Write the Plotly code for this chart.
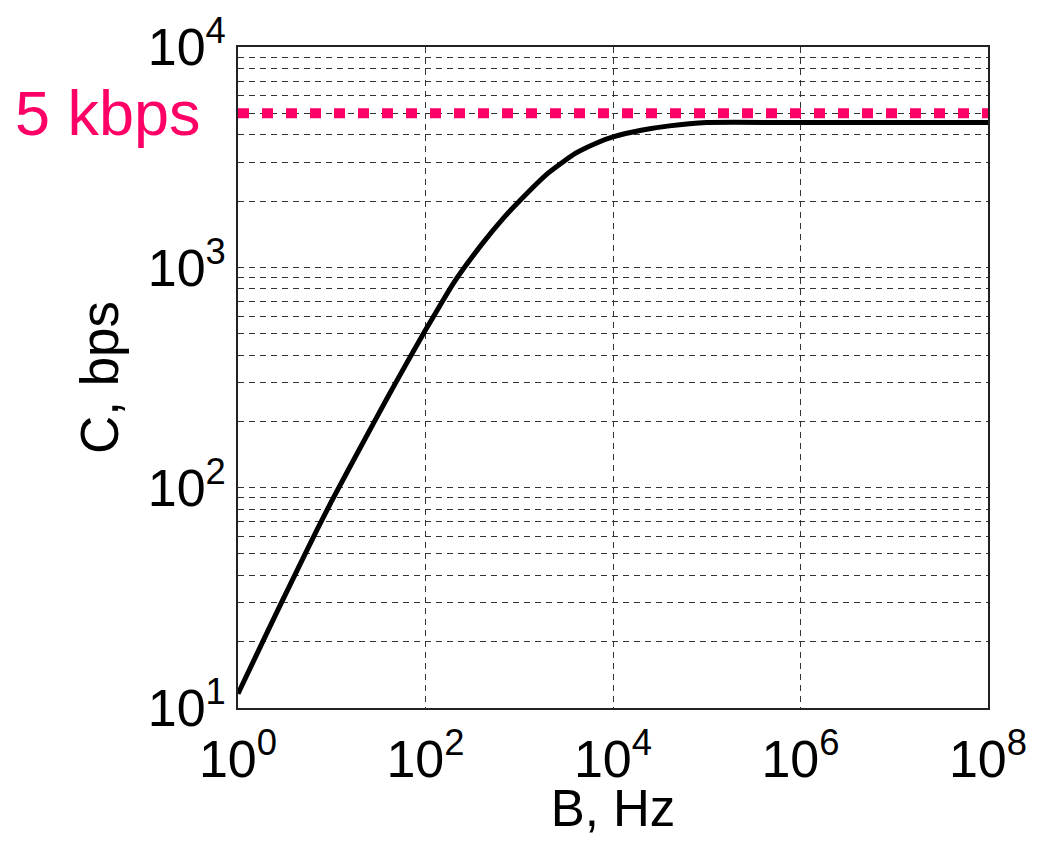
import plotly.graph_objects as go

# Data
bandwidth_hz = [1, 2, 4, 7, 10, 20, 40, 70, 100, 200, 400, 700, 1000, 2000,
                4000, 7000, 1e4, 2e4, 4e4, 1e5, 1e6, 1e7, 1e8]
capacity_bps = [11.6, 21.6, 39.8, 64.6, 87.1, 151, 260, 398, 519, 851, 1274,
                1698, 1995, 2661, 3296, 3698, 3908, 4188, 4385, 4540, 4540,
                4540, 4540]

ref_x = [1, 1e8]
ref_y = [5000, 5000]
ref_label = "5 kbps"

x_ticks = [1, 1e2, 1e4, 1e6, 1e8]
x_ticktext = ["10<sup>0</sup>", "10<sup>2</sup>", "10<sup>4</sup>",
              "10<sup>6</sup>", "10<sup>8</sup>"]
y_ticks = [10, 100, 1000, 10000]
y_ticktext = ["10<sup>1</sup>", "10<sup>2</sup>", "10<sup>3</sup>",
              "10<sup>4</sup>"]

FONT = "Arial, Liberation Sans, sans-serif"
PINK = "#FF0066"
GRID = "#333333"

fig = go.Figure()
fig.add_trace(go.Scatter(
    x=ref_x, y=ref_y, mode="lines",
    line=dict(color=PINK, width=10, dash="11px,13px"),
    hoverinfo="skip", showlegend=False))
fig.add_trace(go.Scatter(
    x=bandwidth_hz, y=capacity_bps, mode="lines",
    line=dict(color="black", width=5, shape="spline", smoothing=0.5),
    showlegend=False))

fig.add_annotation(
    text=ref_label, xref="paper", yref="y", x=-0.047, y=3.699,
    xanchor="right", yanchor="middle", showarrow=False,
    font=dict(family=FONT, size=63, color=PINK))

fig.update_xaxes(
    type="log", range=[0, 8], automargin=False,
    tickvals=x_ticks, ticktext=x_ticktext,
    tickfont=dict(family=FONT, size=52, color="black"),
    ticklabelstandoff=5,
    ticks="", showline=True, linecolor="#222222", linewidth=1.5, mirror=True,
    showgrid=True, gridcolor=GRID, gridwidth=1, griddash="6px,5px",
    zeroline=False,
    title=dict(text="B, Hz", font=dict(family=FONT, size=51, color="black"),
               standoff=8))
fig.update_yaxes(
    type="log", range=[1, 4], automargin=False,
    tickvals=y_ticks, ticktext=y_ticktext,
    tickfont=dict(family=FONT, size=52, color="black"),
    ticks="", showline=True, linecolor="#222222", linewidth=1.5, mirror=True,
    showgrid=True, gridcolor=GRID, gridwidth=1, griddash="6px,5px",
    minor=dict(dtick="D1", showgrid=True, gridcolor=GRID, gridwidth=1,
               griddash="6px,5px", ticks=""),
    zeroline=False,
    title=dict(text="C, bps", font=dict(family=FONT, size=53, color="black"),
               standoff=12))

fig.update_layout(
    width=1030, height=829,
    margin=dict(l=230, r=50, t=39, b=129),
    plot_bgcolor="white", paper_bgcolor="white",
    showlegend=False)

fig.write_html("out.html")
